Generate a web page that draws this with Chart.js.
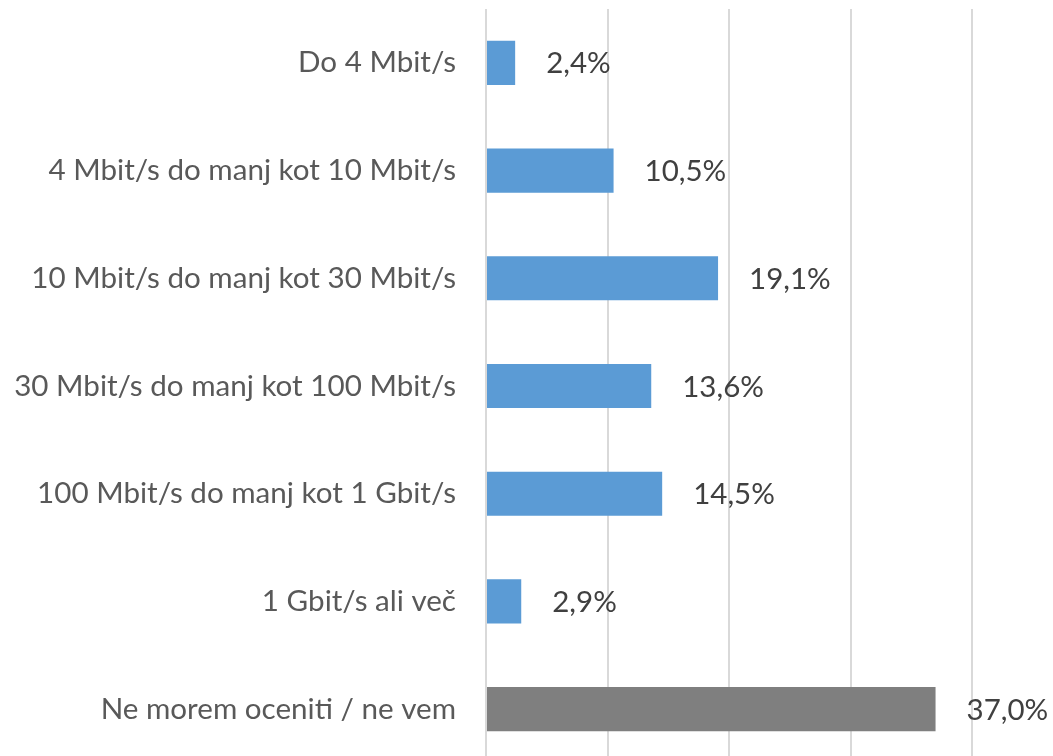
<!DOCTYPE html>
<html>
<head>
<meta charset="utf-8">
<script src="https://cdn.jsdelivr.net/npm/chart.js@4/dist/chart.umd.min.js"></script>
<style>
  html, body { margin: 0; padding: 0; background: #fff; overflow: hidden; }
  #wrap { width: 1053px; height: 764px; position: relative; }
</style>
</head>
<body>
<div id="wrap"><canvas id="hitrostChart"></canvas></div>
<script>
// categories and values (%)
var categories = [
    'Do 4 Mbit/s',
    '4 Mbit/s do manj kot 10 Mbit/s',
    '10 Mbit/s do manj kot 30 Mbit/s',
    '30 Mbit/s do manj kot 100 Mbit/s',
    '100 Mbit/s do manj kot 1 Gbit/s',
    '1 Gbit/s ali več',
    'Ne morem oceniti / ne vem'
];
var values = [2.4, 10.5, 19.1, 13.6, 14.5, 2.9, 37.0];
var barColors = ['#5b9bd5', '#5b9bd5', '#5b9bd5', '#5b9bd5', '#5b9bd5', '#5b9bd5', '#7f7f7f'];

var fontFamily = 'Lato, "Open Sans", sans-serif';

// value labels right of each bar
var valueLabels = {
    id: 'valueLabels',
    afterDatasetsDraw: function (chart) {
        var ctx = chart.ctx;
        var meta = chart.getDatasetMeta(0);
        ctx.save();
        ctx.font = '29.5px ' + fontFamily;
        ctx.fillStyle = '#404040';
        ctx.textAlign = 'left';
        ctx.textBaseline = 'middle';
        meta.data.forEach(function (bar, i) {
            var txt = values[i].toFixed(1).replace('.', ',') + '%';
            ctx.fillText(txt, bar.x + 31, bar.y + 1);
        });
        ctx.restore();
    }
};

var ctx = document.getElementById('hitrostChart').getContext('2d');
var chart = new Chart(ctx, {
    type: 'bar',
    data: {
        labels: categories,
        datasets: [{
            data: values,
            backgroundColor: barColors,
            borderWidth: 0,
            barPercentage: 0.41,
            categoryPercentage: 1
        }]
    },
    options: {
        indexAxis: 'y',
        responsive: true,
        maintainAspectRatio: false,
        animation: false,
        layout: { padding: { top: 9, right: 81, bottom: 1, left: 0 } },
        plugins: {
            legend: { display: false },
            tooltip: { enabled: false }
        },
        scales: {
            x: {
                min: 0,
                max: 40,
                ticks: { display: false, stepSize: 10 },
                grid: { color: '#d9d9d9', lineWidth: 2, drawTicks: false },
                border: { display: false },
                afterFit: function (scale) { scale.height = 0; }
            },
            y: {
                grid: { display: false, drawTicks: false },
                border: { display: false },
                ticks: {
                    padding: 30,
                    color: '#595959',
                    font: { family: fontFamily, size: 29.6 }
                },
                afterFit: function (scale) {
                    scale.width = 486;
                    scale.paddingTop = 0;
                    scale.paddingBottom = 0;
                }
            }
        }
    },
    plugins: [valueLabels]
});
</script>
</body>
</html>
